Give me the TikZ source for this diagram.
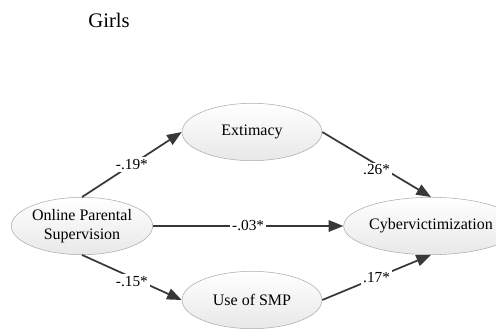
\documentclass[tikz,border=0pt]{standalone}
\usepackage{fontspec}
\setmainfont{Liberation Serif}
\usetikzlibrary{shapes.geometric,arrows.meta}

\begin{document}
\begin{tikzpicture}[x=0.75pt,y=-0.75pt,
    var/.style={ellipse,draw=gray!65,top color=white,bottom color=gray!18,
      inner sep=0pt,minimum width=105pt,minimum height=43pt,
      font=\fontsize{12}{14}\selectfont,align=center},
    link/.style={draw=black!78,line width=1.3pt,
      -{Triangle[length=11pt,width=8.5pt]}},
    coef/.style={fill=white,inner sep=1.5pt,font=\fontsize{11.5}{13}\selectfont}]

  \useasboundingbox (0,0) rectangle (496,329);

  \node (girls) at (109,20) {\fontsize{15.5}{18}\selectfont Girls};

  \node[var] (ops) at (82,226) {Online Parental\\Supervision};
  \node[var] (ext) at (252,132) {Extimacy};
  \node[var] (smp) at (252,300) {Use of SMP};
  \node[var,minimum width=99pt] (cyb) at (431,226) {Cybervictimization};

  % paths
  \draw[link] (ops.north) -- node[coef] {-.19*} (ext.west);
  \draw[link] (ops.south) -- node[coef,yshift=-3pt] {-.15*} (smp.west);
  \draw[link] (ops.east) -- node[coef] {-.03*} (cyb.west);
  \draw[link] (ext.east) -- node[coef,yshift=-4pt] {.26*} (cyb.north);
  \draw[link] (smp.east) -- node[coef] {.17*} (cyb.south);

\end{tikzpicture}
\end{document}
